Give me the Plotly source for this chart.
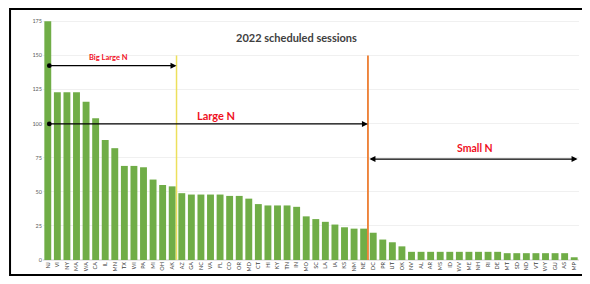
import plotly.graph_objects as go

categories = ["NJ","VI","NY","MA","WA","CA","IL","MN","TX","WI",
              "PA","MI","OH","AK","AZ","GA","NC","VA","FL","CO",
              "OR","MD","CT","HI","KY","TN","IN","MO","SC","LA",
              "IA","KS","NM","NE","DC","PR","UT","OK","NV","AL",
              "AR","MS","ID","WV","ME","NH","RI","DE","MT","SD",
              "ND","VT","WY","GU","AS","MP"]
sessions = [175, 123, 123, 123, 116, 104, 88, 82, 69, 69,
            68, 59, 55, 54, 49, 48, 48, 48, 48, 47,
            47, 45, 41, 40, 40, 40, 39, 32, 30, 28,
            26, 24, 23, 23, 20, 15, 13, 10, 6, 6,
            6, 6, 6, 6, 6, 6, 6, 6, 5, 5,
            5, 5, 5, 5, 5, 2]
y_ticks = [0, 25, 50, 75, 100, 125, 150, 175]

title_text = "2022 scheduled sessions"
big_large_cut = 13.45   # between 14th and 15th bar
large_cut = 33.45       # between 34th and 35th bar

fig = go.Figure()
fig.add_trace(go.Bar(
    x=list(range(len(categories))), y=sessions,
    marker=dict(color="#70AD47", line=dict(width=0)),
    width=0.72,
))

red = "#F0101E"
fig.update_layout(
    width=582, height=276,
    margin=dict(l=35, r=10.6, t=12, b=24),
    paper_bgcolor="white", plot_bgcolor="white",
    showlegend=False,
    font=dict(family="Lato, Open Sans, sans-serif", color="#595959"),
    xaxis=dict(range=[-0.5, len(categories) - 0.5], tickmode="array",
               tickvals=list(range(len(categories))), ticktext=categories,
               tickangle=-90, tickfont=dict(size=5.5, color="#404040"),
               showgrid=False, showline=False, zeroline=False, ticks="",
               automargin=False),
    yaxis=dict(range=[0, 176], tickvals=y_ticks, tickfont=dict(size=5.5, color="#595959"),
               showgrid=True, gridcolor="#f0f0f0", gridwidth=1,
               zeroline=True, zerolinecolor="#e6e6e6", showline=False, ticks="",
               automargin=False),
    bargap=0.28,
)

# border around the whole picture
fig.add_shape(type="rect", xref="paper", yref="paper",
              x0=-0.0615, x1=1.0104, y0=-0.0625, y1=1.0458,
              line=dict(color="black", width=2), fillcolor="rgba(0,0,0,0)")

# vertical cut lines
fig.add_shape(type="line", x0=big_large_cut, x1=big_large_cut, y0=0, y1=150,
              line=dict(color="#EDE05C", width=1.5))
fig.add_shape(type="line", x0=large_cut, x1=large_cut, y0=0, y1=150,
              line=dict(color="#ED7D31", width=1.8))

# arrows
def arrow(x0, x1, y, start_head):
    fig.add_annotation(x=x1, y=y, ax=x0, ay=y, xref="x", yref="y", axref="x", ayref="y",
                       showarrow=True, arrowhead=2, arrowsize=1, arrowwidth=1.2,
                       arrowcolor="black", arrowside="end+start",
                       startarrowhead=start_head, startarrowsize=1, text="")

arrow(0, big_large_cut, 142.5, 6)
arrow(0, large_cut, 99.8, 6)
arrow(large_cut, 55.35, 74, 2)

# texts
fig.add_annotation(x=26, y=163, xref="x", yref="y", text="<b>" + title_text + "</b>",
                   showarrow=False, font=dict(size=11, color="#404040"))
fig.add_annotation(x=6.3, y=148.5, xref="x", yref="y", text="<b>Big Large N</b>",
                   showarrow=False, font=dict(size=7.5, color=red))
fig.add_annotation(x=17.6, y=106, xref="x", yref="y", text="<b>Large N</b>",
                   showarrow=False, font=dict(size=11, color=red))
fig.add_annotation(x=44.6, y=82, xref="x", yref="y", text="<b>Small N</b>",
                   showarrow=False, font=dict(size=10.5, color=red))

fig.write_html("out.html")
